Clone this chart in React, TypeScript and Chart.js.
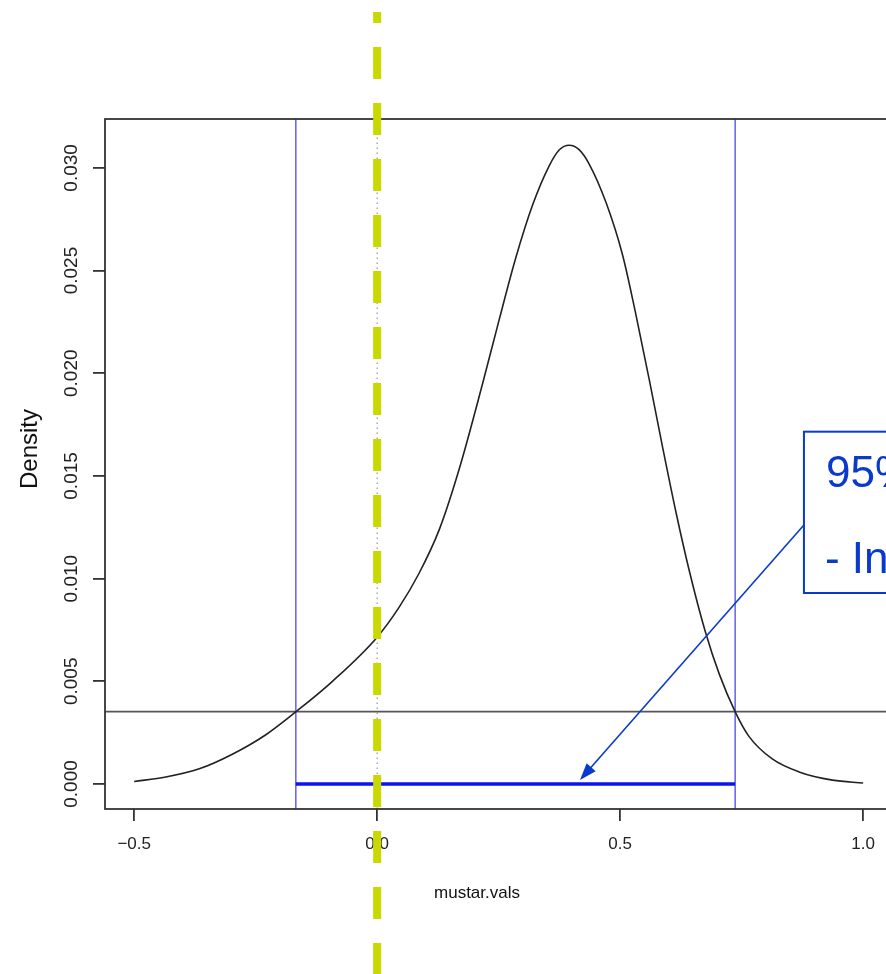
import { useEffect, useRef } from "react";
import { Chart, registerables } from "chart.js";

Chart.register(...registerables);

// ---- data ----
const densityX = [-0.5, -0.435, -0.366, -0.298, -0.229, -0.167, -0.092, 0.0, 0.045, 0.086, 0.128, 0.169, 0.217, 0.251, 0.285, 0.32, 0.354, 0.375, 0.395, 0.415, 0.436, 0.471, 0.505, 0.532, 0.56, 0.587, 0.615, 0.642, 0.675, 0.704, 0.737, 0.765, 0.813, 0.868, 0.937, 1.0];
const densityY = [0.00012, 0.00034, 0.00074, 0.00145, 0.0024, 0.00352, 0.005, 0.00715, 0.0086, 0.01025, 0.0124, 0.01535, 0.0195, 0.0226, 0.0256, 0.0282, 0.0301, 0.03088, 0.0311, 0.0309, 0.0302, 0.02831, 0.02576, 0.0229, 0.01968, 0.01644, 0.01322, 0.01041, 0.00744, 0.00535, 0.0035, 0.00232, 0.00122, 0.00059, 0.00019, 0.00005];

const hpdLower = -0.1673;
const hpdUpper = 0.7366;
const hpdHeight = 0.00352;
const nullValue = 0.0;

const xRange = [-0.56, 1.06];
const yRange = [-0.001217, 0.03238];
const xTickValues = [-0.5, 0.0, 0.5, 1.0];
const xTickLabels = ["\u22120.5", "0.0", "0.5", "1.0"];
const yTickValues = [0.0, 0.005, 0.01, 0.015, 0.02, 0.025, 0.03];
const yTickLabels = ["0.000", "0.005", "0.010", "0.015", "0.020", "0.025", "0.030"];

const xTitle = "mustar.vals";
const yTitle = "Density";
const noteLines = ["95% HPD", "- Interval"];

// annotation anchors in data space
const noteBox = { x: 0.8782, yTop: 0.017155, yBottom: 0.0093 };
const arrowStartY = 0.01261;
const arrowTip = { x: 0.4173, y: 0.000195 };

const FONT = "'Liberation Sans', Arial, Helvetica, sans-serif";

const overlayPlugin = {
  id: "overlay",
  afterDraw(chart: any) {
    const { ctx, chartArea: a } = chart;
    const x = chart.scales.x;
    const y = chart.scales.y;
    ctx.save();
    // plot frame
    ctx.strokeStyle = "#333333";
    ctx.lineWidth = 1.8;
    ctx.strokeRect(a.left, a.top, a.right - a.left, a.bottom - a.top);

    // axis titles
    ctx.fillStyle = "#111111";
    ctx.textAlign = "center";
    ctx.textBaseline = "middle";
    ctx.font = `17px ${FONT}`;
    ctx.fillText(xTitle, 477, 893);
    ctx.save();
    ctx.translate(30, 449);
    ctx.rotate(-Math.PI / 2);
    ctx.font = `24px ${FONT}`;
    ctx.fillText(yTitle, 0, 0);
    ctx.restore();

    // annotation box + arrow
    const blue = "#0a3acc";
    const bx = x.getPixelForValue(noteBox.x);
    const bt = y.getPixelForValue(noteBox.yTop);
    const bb = y.getPixelForValue(noteBox.yBottom);
    ctx.fillStyle = "#ffffff";
    ctx.fillRect(bx, bt, 400, bb - bt);
    ctx.strokeStyle = blue;
    ctx.lineWidth = 2;
    ctx.strokeRect(bx, bt, 400, bb - bt);
    ctx.fillStyle = blue;
    ctx.textAlign = "left";
    ctx.textBaseline = "alphabetic";
    ctx.font = `44px ${FONT}`;
    ctx.fillText(noteLines[0], bx + 22, bt + 55);
    ctx.fillText(noteLines[1], bx + 21, bt + 141);

    const sx = bx;
    const sy = y.getPixelForValue(arrowStartY);
    const tx = x.getPixelForValue(arrowTip.x);
    const ty = y.getPixelForValue(arrowTip.y);
    const ang = Math.atan2(ty - sy, tx - sx);
    const hl = 17;
    const hw = 6;
    ctx.strokeStyle = blue;
    ctx.lineWidth = 1.6;
    ctx.beginPath();
    ctx.moveTo(sx, sy);
    ctx.lineTo(tx - Math.cos(ang) * hl * 0.8, ty - Math.sin(ang) * hl * 0.8);
    ctx.stroke();
    ctx.beginPath();
    ctx.moveTo(tx, ty);
    ctx.lineTo(tx - Math.cos(ang) * hl - Math.sin(ang) * hw, ty - Math.sin(ang) * hl + Math.cos(ang) * hw);
    ctx.lineTo(tx - Math.cos(ang) * hl + Math.sin(ang) * hw, ty - Math.sin(ang) * hl - Math.cos(ang) * hw);
    ctx.closePath();
    ctx.fill();

    // green dashed reference line at the null value, across the whole figure
    const gx = x.getPixelForValue(nullValue);
    ctx.strokeStyle = "#c8d800";
    ctx.lineWidth = 8;
    ctx.lineCap = "butt";
    ctx.setLineDash([32, 24]);
    ctx.lineDashOffset = 21;
    ctx.beginPath();
    ctx.moveTo(gx, 12);
    ctx.lineTo(gx, chart.height);
    ctx.stroke();
    ctx.restore();
  },
};

export default function App() {
  const ref = useRef<HTMLCanvasElement | null>(null);

  useEffect(() => {
    if (!ref.current) return;
    const pts = densityX.map((v, i) => ({ x: v, y: densityY[i] }));
    const chart = new Chart(ref.current, {
      type: "line",
      data: {
        datasets: [
          {
            label: "interval",
            data: [
              { x: hpdLower, y: 0 },
              { x: hpdUpper, y: 0 },
            ],
            borderColor: "#0a14ee",
            borderWidth: 3.6,
            pointRadius: 0,
            order: 0,
          },
          {
            label: "density",
            data: pts,
            borderColor: "#222222",
            borderWidth: 1.6,
            pointRadius: 0,
            cubicInterpolationMode: "monotone",
            order: 1,
          },
          {
            label: "lower",
            data: [
              { x: hpdLower, y: yRange[0] },
              { x: hpdLower, y: yRange[1] },
            ],
            borderColor: "#4848e6",
            borderWidth: 1.3,
            pointRadius: 0,
            order: 2,
          },
          {
            label: "upper",
            data: [
              { x: hpdUpper, y: yRange[0] },
              { x: hpdUpper, y: yRange[1] },
            ],
            borderColor: "#4848e6",
            borderWidth: 1.3,
            pointRadius: 0,
            order: 2,
          },
          {
            label: "cut",
            data: [
              { x: xRange[0], y: hpdHeight },
              { x: xRange[1], y: hpdHeight },
            ],
            borderColor: "#555555",
            borderWidth: 1.8,
            pointRadius: 0,
            order: 3,
          },
          {
            label: "null",
            data: [
              { x: nullValue, y: yRange[0] },
              { x: nullValue, y: yRange[1] },
            ],
            borderColor: "#999999",
            borderWidth: 1.2,
            borderDash: [1.5, 3.5],
            pointRadius: 0,
            order: 4,
          },
        ],
      },
      options: {
        animation: false,
        responsive: false,
        events: [],
        layout: { padding: { top: 119, right: 910 - 892.3, bottom: 0, left: 0 } },
        plugins: { legend: { display: false }, tooltip: { enabled: false } },
        scales: {
          x: {
            type: "linear",
            min: xRange[0],
            max: xRange[1],
            afterBuildTicks: (s: any) => {
              s.ticks = xTickValues.map((v) => ({ value: v }));
            },
            afterFit: (s: any) => {
              s.height = 974 - 809;
            },
            border: { display: false },
            grid: {
              display: true,
              drawOnChartArea: false,
              drawTicks: true,
              tickLength: 12,
              color: "#333333",
              lineWidth: 1.8,
            },
            ticks: {
              autoSkip: false,
              maxRotation: 0,
              minRotation: 0,
              padding: 13,
              color: "#222222",
              font: { family: FONT, size: 17 },
              callback: (_v: any, i: number) => xTickLabels[i],
            },
          },
          y: {
            type: "linear",
            min: yRange[0],
            max: yRange[1],
            afterBuildTicks: (s: any) => {
              s.ticks = yTickValues.map((v) => ({ value: v }));
            },
            afterFit: (s: any) => {
              s.width = 105;
            },
            border: { display: false },
            grid: {
              display: true,
              drawOnChartArea: false,
              drawTicks: true,
              tickLength: 12,
              color: "#333333",
              lineWidth: 1.8,
            },
            ticks: {
              autoSkip: false,
              minRotation: 90,
              maxRotation: 90,
              crossAlign: "center",
              padding: -3,
              color: "#222222",
              font: { family: FONT, size: 19 },
              callback: (_v: any, i: number) => yTickLabels[i],
            },
          },
        },
      },
      plugins: [overlayPlugin],
    } as any);
    return () => chart.destroy();
  }, []);

  return (
    <div
      style={{
        position: "fixed",
        left: 0,
        top: 0,
        width: 886,
        height: 974,
        overflow: "hidden",
        background: "#ffffff",
      }}
    >
      <canvas ref={ref} width={910} height={974} style={{ display: "block" }} />
    </div>
  );
}
